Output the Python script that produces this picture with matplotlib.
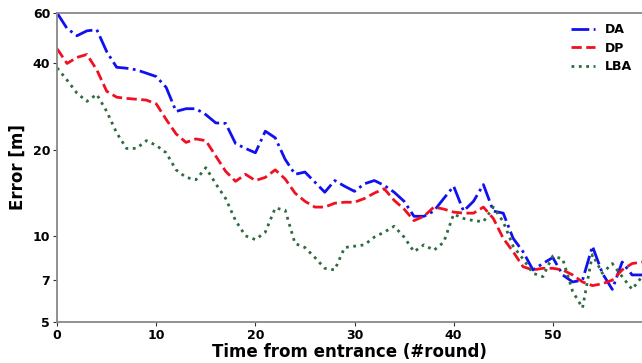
import matplotlib
matplotlib.use("Agg")
import matplotlib.pyplot as plt
from matplotlib.ticker import FixedLocator, NullLocator, FixedFormatter

rounds = list(range(60))
da = [60, 53, 50, 52, 52.5, 44, 38.8, 38.5, 38, 37, 36, 33, 27.2, 27.8, 27.8, 26.5,
      24.8, 24.7, 21, 20.2, 19.5, 23.2, 22, 18.5, 16.4, 16.7, 15.4, 14.2, 15.6, 14.9,
      14.3, 15.2, 15.6, 15, 14.2, 13.2, 11.7, 11.7, 12.2, 13.5, 14.9, 12.2, 13.2, 15.1,
      12.2, 12.0, 9.8, 8.8, 7.6, 8.0, 8.4, 7.3, 6.9, 7.0, 9.2, 7.4, 6.5, 8.1, 7.3, 7.3]
dp = [45, 40, 42, 43, 38, 32, 30.5, 30.2, 30, 29.8, 28.9, 25.5, 22.7, 21.2, 21.8, 21.5,
      19, 16.8, 15.5, 16.4, 15.6, 16, 17, 15.8, 14.1, 13.2, 12.6, 12.6, 13, 13.1,
      13.1, 13.5, 14.1, 14.6, 13.3, 12.4, 11.3, 11.7, 12.6, 12.4, 12.1, 12, 12, 12.6,
      11.5, 9.8, 8.8, 7.8, 7.6, 7.7, 7.7, 7.6, 7.3, 6.9, 6.7, 6.8, 7.0, 7.6, 8.0, 8.1]
lba = [38.6, 35, 31.5, 29.5, 31.2, 27.2, 22.9, 20.2, 20.2, 21.5, 20.7, 19.5, 17, 16, 15.7,
       17.3, 15.2, 13.5, 11.3, 10, 9.7, 10.3, 12.5, 12.3, 9.4, 9.1, 8.4, 7.7, 7.6, 9.1,
       9.2, 9.3, 9.9, 10.3, 10.8, 9.9, 8.8, 9.3, 8.9, 9.5, 11.9, 11.5, 11.3, 11.2,
       12.6, 11.2, 9.2, 8.3, 7.4, 7.2, 8.5, 8.3, 6.4, 5.6, 8.6, 7.4, 8.0, 7.2, 6.5, 7.2]

series_names = ["DA", "DP", "LBA"]
yticks = [5, 7, 10, 20, 40, 60]
xticks = [0, 10, 20, 30, 40, 50]

plt.rcParams['font.family'] = ['DejaVu Sans']
plt.rcParams['font.weight'] = 'bold'

fig = plt.figure(figsize=(6.42, 3.63), dpi=100)
ax = fig.add_axes([0.089, 0.113, 0.911, 0.851])

ax.plot(rounds, da, color='#1010f0', linestyle='-.', linewidth=2.0, label=series_names[0])
ax.plot(rounds, dp, color='#f01020', linestyle='--', linewidth=2.0, label=series_names[1])
ax.plot(rounds, lba, color='#2e6b3e', linestyle=':', linewidth=2.0, label=series_names[2])

ax.set_yscale('log')
ax.set_ylim(5, 60)
ax.set_xlim(0, 59)
ax.yaxis.set_major_locator(FixedLocator(yticks))
ax.yaxis.set_major_formatter(FixedFormatter([str(v) for v in yticks]))
ax.yaxis.set_minor_locator(NullLocator())
ax.set_xticks(xticks)

for lab in ax.get_xticklabels() + ax.get_yticklabels():
    lab.set_fontweight('bold')
    lab.set_fontsize(9)
ax.tick_params(axis='both', length=3, width=0.8, colors='#333333', labelcolor='black', pad=2)

for sp in ax.spines.values():
    sp.set_color('#888888')
    sp.set_linewidth(1.3)
ax.spines['right'].set_visible(False)

ax.set_xlabel('Time from entrance (#round)', fontsize=12, fontweight='bold', labelpad=1)
ax.set_ylabel('Error [m]', fontsize=12, fontweight='bold', labelpad=4)

leg = ax.legend(loc='upper right', frameon=False, prop={'weight': 'bold', 'size': 9},
                handlelength=1.9, borderaxespad=0.4, labelspacing=0.45)

fig.savefig('out.png', dpi=100)
